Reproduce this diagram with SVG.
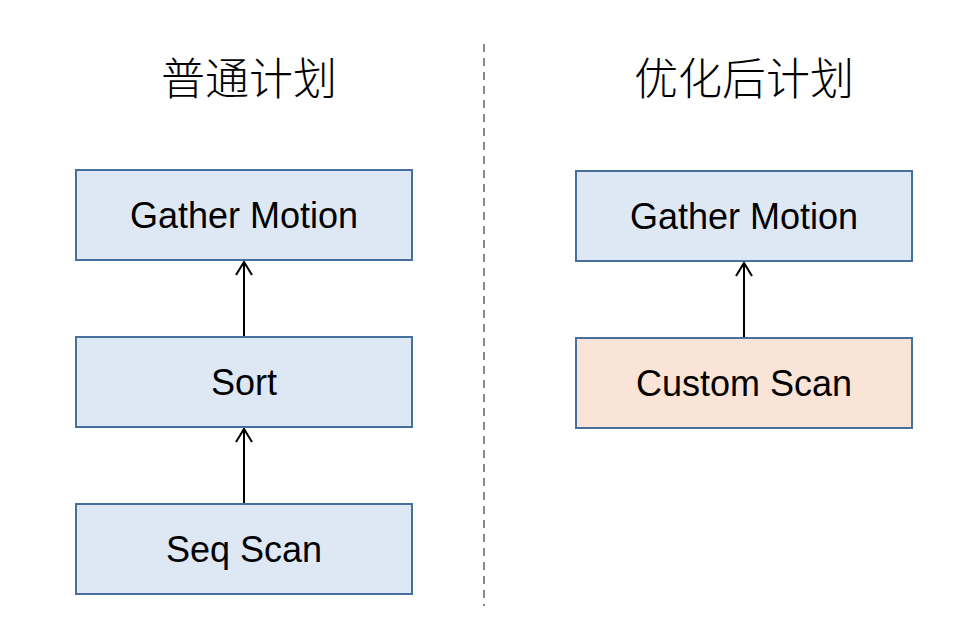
<svg xmlns="http://www.w3.org/2000/svg" width="954" height="626" viewBox="0 0 954 626">
<defs>
<style>
.box{stroke:#46709e;stroke-width:2}
.blue{fill:#dee8f5}
.orange{fill:#fae4d7}
.lbl{font-family:"Liberation Sans",Arial,sans-serif;font-size:36px;fill:#000;text-anchor:middle}
.title{font-family:"Noto Sans CJK SC",sans-serif;font-size:44px;font-weight:300;fill:#000;text-anchor:middle}
.conn{stroke:#000;stroke-width:2;fill:none}
</style>
<marker id="arr" markerUnits="userSpaceOnUse" markerWidth="20" markerHeight="20" refX="16" refY="10" orient="auto" viewBox="0 0 20 20">
<path d="M3,2 L16,10 L3,18" fill="none" stroke="#000" stroke-width="2"/>
</marker>
</defs>
<rect width="954" height="626" fill="#fff"/>
<line x1="484" y1="44" x2="484" y2="606" stroke="#888" stroke-width="2" stroke-dasharray="8,6"/>
<text class="title" x="249" y="95">普通计划</text>
<text class="title" x="744" y="95">优化后计划</text>
<g id="connectors">
<path class="conn" d="M244,337 V262" marker-end="url(#arr)"/>
<path class="conn" d="M244,504 V429" marker-end="url(#arr)"/>
<path class="conn" d="M744,338 V263" marker-end="url(#arr)"/>
</g>
<g id="gather-left">
<rect class="box blue" x="76" y="170" width="336" height="90"/>
<text class="lbl" x="244" y="228">Gather Motion</text>
</g>
<g id="sort">
<rect class="box blue" x="76" y="337" width="336" height="90"/>
<text class="lbl" x="244" y="395">Sort</text>
</g>
<g id="seqscan">
<rect class="box blue" x="76" y="504" width="336" height="90"/>
<text class="lbl" x="244" y="562">Seq Scan</text>
</g>
<g id="gather-right">
<rect class="box blue" x="576" y="171" width="336" height="90"/>
<text class="lbl" x="744" y="229">Gather Motion</text>
</g>
<g id="customscan">
<rect class="box orange" x="576" y="338" width="336" height="90"/>
<text class="lbl" x="744" y="396">Custom Scan</text>
</g>
</svg>
